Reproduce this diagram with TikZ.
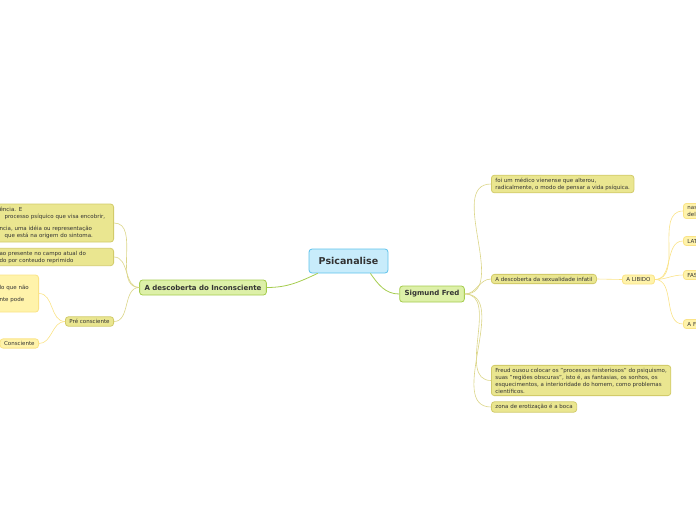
\documentclass[tikz,border=0pt]{standalone}
\usepackage{fontspec}
\setmainfont{DejaVu Sans}
\usetikzlibrary{positioning}
\definecolor{rootfill}{HTML}{C8ECFB}\definecolor{rootline}{HTML}{5EC3EC}
\definecolor{mainfill}{HTML}{DDF0A8}\definecolor{mainline}{HTML}{A5CC4E}
\definecolor{subfill}{HTML}{EAE690}\definecolor{subline}{HTML}{D2CB6A}
\definecolor{leaffill}{HTML}{FFF3AA}\definecolor{leafline}{HTML}{FAE387}
\definecolor{txt}{HTML}{333333}
\newcommand\skipin[1]{\rule{#1pt}{0pt}}
\begin{document}
\begin{tikzpicture}[x=1pt,y=-1pt,
  base/.style={rounded corners=3pt,line width=.8pt,inner xsep=4pt,inner ysep=2.5pt,text=txt,align=left,font=\fontsize{5.5}{7}\selectfont},
  root/.style={base,draw=rootline,fill=rootfill,font=\bfseries\fontsize{9.5}{11}\selectfont,minimum width=79,minimum height=24},
  topic/.style={base,draw=mainline,fill=mainfill,font=\bfseries\fontsize{7}{8}\selectfont,inner xsep=5pt,minimum height=15},
  sub/.style={base,draw=subline,fill=subfill},
  leaf/.style={base,draw=leafline,fill=leaffill},
  toplink/.style={draw=mainline,line width=.8pt},
  sublink/.style={draw=subline!80,line width=.6pt},
  leaflink/.style={draw=leafline,line width=.6pt}]
\useasboundingbox (0,0) rectangle (696,520);\clip (0,0) rectangle (696,520);
% centre and main branches
\node[root] (psi) at (348.5,261){Psicanalise};
\node[topic] (inc) at (203,287.5){A descoberta do Inconsciente};
\node[topic,minimum height=16] (fred) at (432,294){Sigmund Fred};
\draw[toplink] ([xshift=9]psi.south west) to[out=205,in=0] (inc.east);
\draw[toplink] ([xshift=-18]psi.south east) to[out=-55,in=180] (fred.west);
% left side
\node[sub,anchor=east,text width=170,minimum height=38] (resist) at (114,223){\skipin{60}ência. E\\\skipin{65}processo psíquico que visa encobrir,\\[5pt]\skipin{60}ncia, uma idéia ou representação\\\skipin{65}que está na origem do sintoma.};
\node[sub,anchor=east,text width=170] (atual) at (114,257){\skipin{60}ao presente no campo atual do\\\skipin{60}do por conteudo reprimido};
\node[sub,anchor=east] (pre) at (114,321.5){Pré consciente};
\node[leaf,anchor=east,text width=60,minimum height=37] (prebox) at (39,293.5){\skipin{25}lo que não\\[5pt]\skipin{25}nte pode};
\node[leaf,anchor=east] (consc) at (39,343.5){Consciente};
\foreach \n in {resist,atual,pre}\draw[sublink] (inc.west) to[out=180,in=0] (\n.east);
\foreach \n in {prebox,consc}\draw[leaflink] (pre.west) to[out=180,in=0] (\n.east);
% right side
\node[sub,anchor=west] (medico) at (491,184){foi um médico vienense que alterou,\\radicalmente, o modo de pensar a vida psíquica.};
\node[sub,anchor=west] (sexual) at (491,279){A descoberta da sexualidade infatil};
\node[sub,anchor=west] (freud) at (491,380.5){Freud ousou colocar os "processos misteriosos" do psiquismo,\\suas "regiões obscuras", isto é, as fantasias, os sonhos, os\\esquecimentos, a interioridade do homem, como problemas\\científicos.};
\node[sub,anchor=west] (boca) at (491,407){zona de erotização é a boca};
\foreach \n in {medico,sexual,freud,boca}\draw[sublink] (fred.east) to[out=0,in=180] (\n.west);
\node[leaf,anchor=west] (libido) at (622,279.5){A LIBIDO};
\draw[leaflink] (sexual.east) -- (libido.west);
\node[leaf,anchor=west,text width=30] (nasce) at (683,211){nas\\dele};
\node[leaf,anchor=west,text width=30] (latencia) at (683,241){LAT};
\node[leaf,anchor=west,text width=30] (fase) at (683,275){FAS};
\node[leaf,anchor=west,text width=30] (afase) at (683,324){A F};
\foreach \n in {nasce,latencia,fase,afase}\draw[leaflink] (libido.east) to[out=0,in=180] (\n.west);
\end{tikzpicture}
\end{document}
